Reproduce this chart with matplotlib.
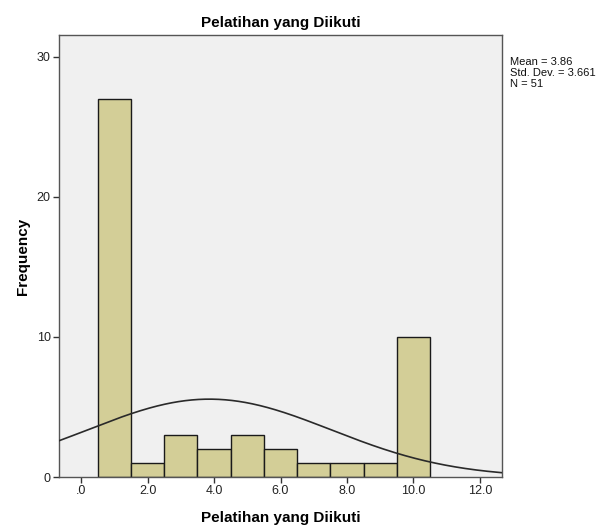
import numpy as np
import matplotlib.pyplot as plt

plt.rcParams['font.family'] = ['Liberation Sans', 'DejaVu Sans']

# Histogram data (values 1..10, bin width 1)
values = [1, 2, 3, 4, 5, 6, 7, 8, 9, 10]
counts = [27, 1, 3, 2, 3, 2, 1, 1, 1, 10]
mean, sd, n = 3.86, 3.661, 51
x_ticks = [0, 2, 4, 6, 8, 10, 12]
x_tick_labels = ['.0', '2.0', '4.0', '6.0', '8.0', '10.0', '12.0']
y_ticks = [0, 10, 20, 30]

fig = plt.figure(figsize=(6.02, 5.27), dpi=100)
ax = fig.add_axes([59/602, 1 - 477/527, (502-59)/602, (477-35)/527])
ax.set_facecolor('#F0F0F0')

ax.bar(values, counts, width=1.0, color='#D3CE97', edgecolor='#1a1a1a', linewidth=1.0, zorder=2)

# Normal curve scaled to counts
xs = np.linspace(-0.7, 12.7, 400)
ys = n * 1.0 / (sd * np.sqrt(2 * np.pi)) * np.exp(-0.5 * ((xs - mean) / sd) ** 2)
ax.plot(xs, ys, color='#2a2a2a', linewidth=1.2, zorder=3)

ax.set_xlim(-0.667, 12.667)
ax.set_ylim(0, 31.55)
ax.set_xticks(x_ticks)
ax.set_xticklabels(x_tick_labels)
ax.set_yticks(y_ticks)
ax.tick_params(axis='both', direction='out', length=4, width=1, color='#333333',
               labelsize=9, labelcolor='#222222', pad=2)
for s in ax.spines.values():
    s.set_color('#555555')
    s.set_linewidth(1.0)

ax.set_title('Pelatihan yang Diikuti', fontsize=11, fontweight='bold', pad=6)
ax.set_xlabel('Pelatihan yang Diikuti', fontsize=11, fontweight='bold', labelpad=10)
ax.set_ylabel('Frequency', fontsize=11, fontweight='bold', labelpad=5)

fig.text(510/602, 1 - 57/527, 'Mean = 3.86\nStd. Dev. = 3.661\nN = 51',
         fontsize=8, va='top', ha='left', linespacing=1.12, color='#111111')

fig.savefig('out.png', dpi=100)
